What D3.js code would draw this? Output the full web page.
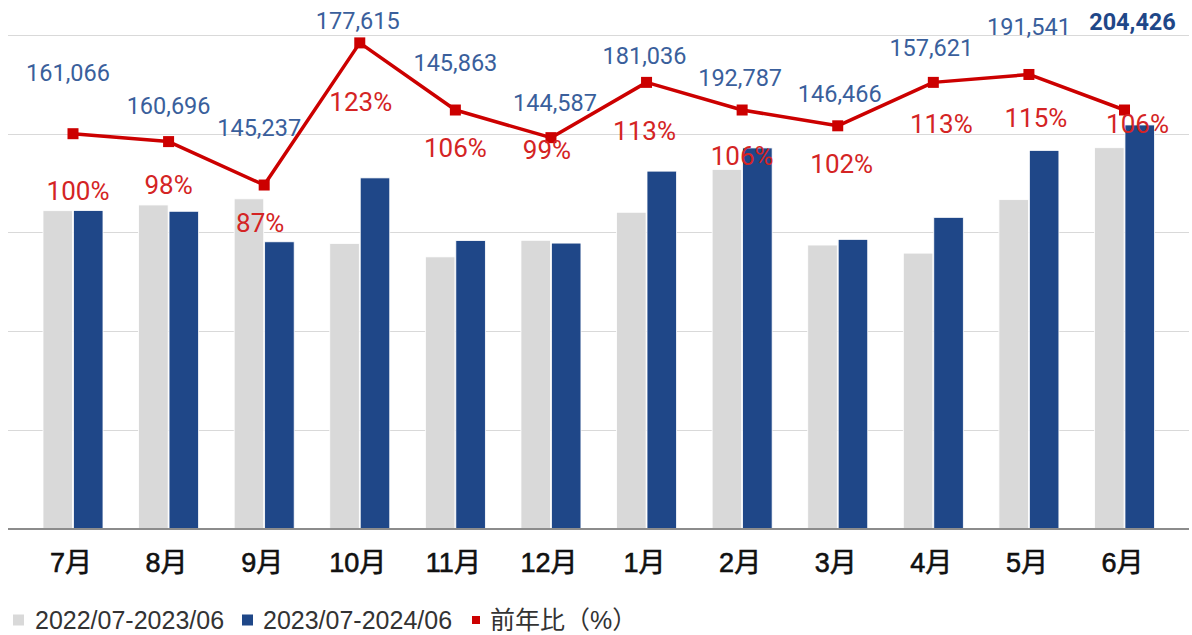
<!DOCTYPE html>
<html><head><meta charset="utf-8">
<script src="https://cdn.jsdelivr.net/npm/d3@7"></script>
<style>
html,body{margin:0;padding:0;background:#fff;}
svg{display:block;}
</style></head>
<body>
<svg id="chart" width="1192" height="635"></svg>
<script>
const months = ["7月","8月","9月","10月","11月","12月","1月","2月","3月","4月","5月","6月"];
const seriesNames = ["2022/07-2023/06","2023/07-2024/06","前年比（%）"];
const prevYear = [161000,163900,167000,144400,137600,146000,160200,181900,143600,139500,166600,192900];
const currYear = [161066,160696,145237,177615,145863,144587,181036,192787,146466,157621,191541,204426];
const ratio = [100,98,87,123,106,99,113,106,102,113,115,106];
const yTicks = [0,50000,100000,150000,200000,250000];

// label placement offsets (layout only)
const numOff = [[-5,-61],[0,-36],[-5,-57],[-2,-22],[0,-47],[4,-35],[-2,-27],[-2,-32],[2,-32],[-2,-35],[0,-48],[8,-88]];
const pctOff = [[5,57],[0,43],[-4,38],[1,59],[0,38],[-4,12],[-2,49],[0,46],[4,38],[8,42],[7,43],[13,14]];

const svg = d3.select("#chart");
const gridX0 = 8, gridX1 = 1189;
const yTop = 35, yBase = 528.5;

const x = d3.scaleBand().domain(months).range([25.2, 1172.3]).paddingInner(0).paddingOuter(0);
const sub = d3.scaleBand().domain([0,1]).range([-30, 30]).paddingInner(0.03);
const y = d3.scaleLinear().domain([0,250000]).range([yBase, yTop]);
const y2 = d3.scaleLinear().domain([0,125]).range([yBase, yTop]);

// gridlines
svg.append("g").selectAll("line").data(yTicks.slice(1)).join("line")
  .attr("x1", gridX0).attr("x2", gridX1)
  .attr("y1", d => Math.round(y(d)) + 0.5).attr("y2", d => Math.round(y(d)) + 0.5)
  .attr("stroke", "#d9d9d9").attr("stroke-width", 1);

const colors = ["#d9d9d9", "#1f4788"];
const barData = months.map((m,i) => ({m, i, vals:[prevYear[i], currYear[i]]}));

const gBars = svg.append("g");
barData.forEach(d => {
  d.vals.forEach((v,k) => {
    gBars.append("rect")
      .attr("x", x(d.m) + x.bandwidth()/2 + sub(k))
      .attr("width", sub.bandwidth())
      .attr("y", y(v))
      .attr("height", yBase - y(v))
      .attr("fill", colors[k])
      .attr("stroke", "#ffffff").attr("stroke-width", 0.8);
  });
});

// baseline axis
svg.append("line").attr("x1", gridX0).attr("x2", gridX1)
  .attr("y1", yBase + 0.5).attr("y2", yBase + 0.5)
  .attr("stroke", "#8c8c8c").attr("stroke-width", 2);

// x axis labels
const xAxis = d3.axisBottom(x).tickSize(0).tickPadding(0);
const gx = svg.append("g").attr("transform", `translate(0,${yBase})`).call(xAxis);
gx.select(".domain").remove();
gx.selectAll("text")
  .attr("x", -2)
  .attr("y", 34).attr("dy", "0.35em")
  .attr("font-family", "'Liberation Sans', 'Noto Sans CJK JP', sans-serif")
  .attr("font-size", 27).attr("font-weight", 400).attr("fill", "#111")
  .attr("stroke", "#111").attr("stroke-width", 0.6);

// line
const cx = m => x(m) + x.bandwidth()/2;
const line = d3.line().x((d,i) => cx(months[i])).y(d => y2(d));
svg.append("path").datum(ratio).attr("d", line)
  .attr("fill", "none").attr("stroke", "#cc0000").attr("stroke-width", 3.5)
  .attr("stroke-linejoin", "round");
svg.append("g").selectAll("rect").data(ratio).join("rect")
  .attr("x", (d,i) => cx(months[i]) - 5.5).attr("y", d => y2(d) - 5.5)
  .attr("width", 11).attr("height", 11).attr("fill", "#cc0000");

// number labels
svg.append("g").selectAll("text").data(currYear).join("text")
  .attr("x", (d,i) => cx(months[i]) + numOff[i][0])
  .attr("y", (d,i) => y2(ratio[i]) + numOff[i][1])
  .attr("dy", "0.35em").attr("text-anchor", "middle")
  .attr("font-family", "Roboto, sans-serif").attr("font-size", 23.5)
  .attr("font-weight", (d,i) => i === currYear.length - 1 ? 700 : 400)
  .attr("fill", (d,i) => i === currYear.length - 1 ? "#1f4788" : "#3a5f9c")
  .text(d => d3.format(",")(d));

// percent labels
svg.append("g").selectAll("text").data(ratio).join("text")
  .attr("x", (d,i) => cx(months[i]) + pctOff[i][0])
  .attr("y", (d,i) => y2(d) + pctOff[i][1])
  .attr("dy", "0.35em").attr("text-anchor", "middle")
  .attr("font-family", "Roboto, sans-serif").attr("font-size", 26)
  .attr("fill", "#d42424")
  .text(d => d + "%");

// legend
const legend = svg.append("g").attr("font-size", 25).attr("fill", "#333");
const legItems = [
  {name: seriesNames[0], color: "#d9d9d9", x: 13, size: 11, tx: 35},
  {name: seriesNames[1], color: "#1f4788", x: 242, size: 11, tx: 263},
  {name: seriesNames[2], color: "#cc0000", x: 472, size: 8, tx: 490}
];
legItems.forEach(it => {
  legend.append("rect").attr("x", it.x).attr("y", 620 - it.size/2)
    .attr("width", it.size).attr("height", it.size).attr("fill", it.color);
  legend.append("text").attr("x", it.tx).attr("y", 620).attr("dy", "0.35em")
    .attr("font-family", "'Liberation Sans', 'Noto Sans CJK JP', sans-serif")
    .attr("fill", "#333")
    .text(it.name);
});
</script>
</body></html>
